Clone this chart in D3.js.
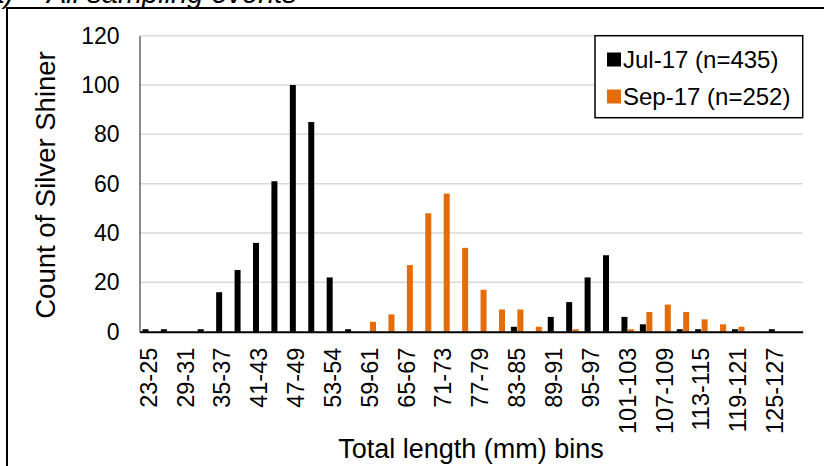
<!DOCTYPE html>
<html>
<head>
<meta charset="utf-8">
<script src="https://cdn.jsdelivr.net/npm/d3@7"></script>
<style>
  html, body { margin: 0; padding: 0; background: #fff; }
  svg { display: block; font-family: Arial, "Liberation Sans", sans-serif; }
</style>
</head>
<body>
<svg id="chart" width="824" height="466"></svg>
<script>
// Length bins (mm); only every other bin gets a printed label
const bins = [
  "23-25", "26-28", "29-31", "32-34", "35-37", "38-40", "41-43", "44-46",
  "47-49", "50-52", "53-54", "55-58", "59-61", "62-64", "65-67", "68-70",
  "71-73", "74-76", "77-79", "80-82", "83-85", "86-88", "89-91", "92-94",
  "95-97", "98-100", "101-103", "104-106", "107-109", "110-112", "113-115", "116-118",
  "119-121", "122-124", "125-127", "128-130"
];
const seriesNames = ["Jul-17 (n=435)", "Sep-17 (n=252)"];
const julCounts = [
  1, 1, 0, 1, 16, 25, 36, 61, 100, 85, 22, 1,
  0, 0, 0, 0, 0, 0, 0, 0, 2, 0, 6, 12,
  22, 31, 6, 3, 0, 1, 1, 0, 1, 0, 1, 0
];
const sepCounts = [
  0, 0, 0, 0, 0, 0, 0, 0, 0, 0, 0, 0,
  4, 7, 27, 48, 56, 34, 17, 9, 9, 2, 0, 1,
  0, 0, 1, 8, 11, 8, 5, 3, 2, 0, 0, 0
];
const yTicks = [0, 20, 40, 60, 80, 100, 120];
const colors = ["#000000", "#E46C0A"];

const svg = d3.select("#chart");

// Panel frame and caption
svg.append("line").attr("x1", 7).attr("x2", 7).attr("y1", 8).attr("y2", 466)
  .attr("stroke", "#000").attr("stroke-width", 2);
svg.append("line").attr("x1", 6).attr("x2", 824).attr("y1", 8).attr("y2", 8)
  .attr("stroke", "#000").attr("stroke-width", 2);
svg.append("text").attr("x", 14).attr("y", 3).attr("text-anchor", "end")
  .attr("font-size", 29).attr("font-style", "italic").text("(a)");
svg.append("text").attr("x", 47).attr("y", 3)
  .attr("font-size", 29).attr("font-style", "italic").text("All sampling events");

const plot = { left: 139.5, right: 802.7, top: 35.7, bottom: 331.7 };

const x = d3.scaleBand().domain(bins).range([plot.left, plot.right]).paddingInner(0).paddingOuter(0);
const xSub = d3.scaleBand().domain(seriesNames).range([0, x.bandwidth()])
  .paddingInner(0.077).paddingOuter(0.456);
const y = d3.scaleLinear().domain([0, 120]).range([plot.bottom, plot.top]);

// Horizontal gridlines
svg.append("g").selectAll("line").data(yTicks.filter(d => d > 0)).join("line")
  .attr("x1", plot.left).attr("x2", plot.right)
  .attr("y1", d => y(d)).attr("y2", d => y(d))
  .attr("stroke", "#d9d9d9").attr("stroke-width", 1.5);

// Y axis
const yAxis = svg.append("g").attr("transform", `translate(${plot.left},0)`)
  .call(d3.axisLeft(y).tickValues(yTicks).tickSize(0).tickPadding(20));
yAxis.select(".domain").attr("stroke", "#404040").attr("stroke-width", 1.2);
yAxis.selectAll("text").attr("font-size", 23).attr("fill", "#000")
  .attr("font-family", "Arial, 'Liberation Sans', sans-serif");

// Bars
const rows = bins.map((b, i) => ({ bin: b, values: [julCounts[i], sepCounts[i]] }));
const groups = svg.append("g").selectAll("g").data(rows).join("g")
  .attr("transform", d => `translate(${x(d.bin)},0)`);
groups.selectAll("rect")
  .data(d => d.values.map((v, k) => ({ name: seriesNames[k], value: v, k })))
  .join("rect")
  .attr("x", d => xSub(d.name))
  .attr("width", xSub.bandwidth())
  .attr("y", d => y(d.value))
  .attr("height", d => y(0) - y(d.value))
  .attr("fill", d => colors[d.k]);

// X axis
const xAxis = svg.append("g").attr("transform", `translate(0,${plot.bottom})`)
  .call(d3.axisBottom(x).tickSize(0).tickFormat((d, i) => i % 2 === 0 ? d : ""));
xAxis.select(".domain").attr("stroke", "#000").attr("stroke-width", 2);
xAxis.selectAll("text")
  .attr("font-size", 23.5).attr("fill", "#000")
  .attr("font-family", "Arial, 'Liberation Sans', sans-serif")
  .attr("text-anchor", "end")
  .attr("dy", null)
  .attr("dominant-baseline", "central")
  .attr("transform", "rotate(-90)")
  .attr("x", -16).attr("y", 0);

// Axis titles
svg.append("text")
  .attr("transform", `translate(55,185) rotate(-90)`)
  .attr("text-anchor", "middle").attr("font-size", 27.5)
  .text("Count of Silver Shiner");
svg.append("text").attr("x", 471).attr("y", 458)
  .attr("text-anchor", "middle").attr("font-size", 27)
  .text("Total length (mm) bins");

// Legend
const legend = svg.append("g");
legend.append("rect").attr("x", 595).attr("y", 35.7).attr("width", 207.7).attr("height", 82)
  .attr("fill", "#fff").attr("stroke", "#000").attr("stroke-width", 1.5);
const legendRows = [{ y: 59.5, base: 67.5 }, { y: 96.5, base: 105 }];
seriesNames.forEach((name, k) => {
  legend.append("rect").attr("x", 607).attr("y", legendRows[k].y - 7)
    .attr("width", 14).attr("height", 14).attr("fill", colors[k]);
  legend.append("text").attr("x", 623).attr("y", legendRows[k].base)
    .attr("font-size", 24).text(name);
});
</script>
</body>
</html>
